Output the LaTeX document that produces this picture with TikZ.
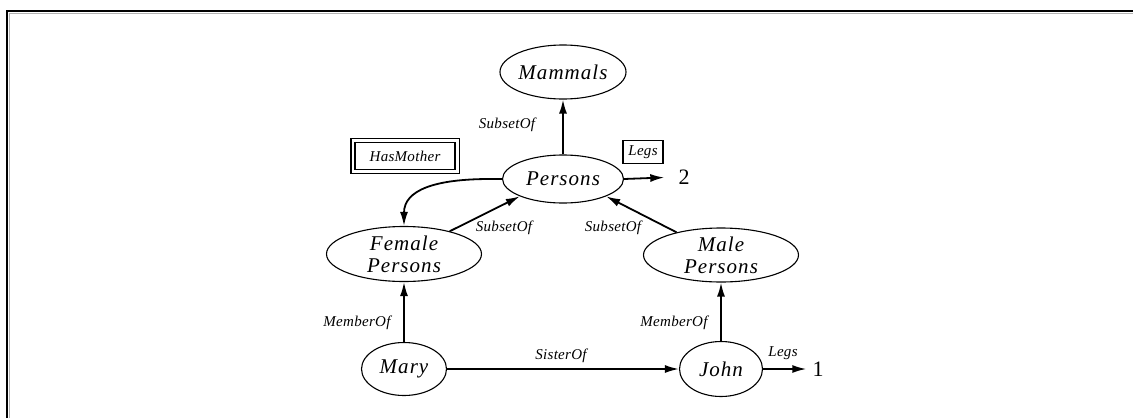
\documentclass[tikz,border=0pt]{standalone}
\usepackage{fontspec}
\setmainfont{Liberation Serif}
\newfontfamily\labfont[LetterSpace=5]{Liberation Serif}
\newfontfamily\smallfont[LetterSpace=2]{Liberation Serif}
\usetikzlibrary{shapes.geometric,arrows.meta}
\begin{document}
\begin{tikzpicture}[x=1pt,y=-1pt,
  ent/.style={draw, ellipse, line width=1.1pt, inner sep=0pt, align=center,
    font=\labfont\itshape\fontsize{21}{22}\selectfont},
  lbl/.style={font=\smallfont\itshape\fontsize{15}{16}\selectfont, inner sep=1pt},
  num/.style={font=\fontsize{22}{22}\selectfont, inner sep=1pt},
  arr/.style={line width=1.8pt, -{Latex[length=14pt,width=8pt]}},
  box/.style={draw, line width=1.1pt, inner sep=0pt, minimum width=40pt, minimum height=23pt,
    font=\smallfont\itshape\fontsize{15}{16}\selectfont},
  dbox/.style={draw, line width=1.1pt, inner sep=0pt,
    minimum width=100pt, minimum height=27pt, font=\smallfont\itshape\fontsize{15}{16}\selectfont}]
\useasboundingbox (0,0) rectangle (1133,418);
% frame
\draw[gray!60, line width=1pt] (9.5,418) -- (9.5,13.5) -- (1133,13.5);
\draw[line width=2pt] (7,418) -- (7,11) -- (1133,11);
% nodes
\node[ent, minimum width=121pt, minimum height=54pt] (mammals) at (563,72) {Mammals};
\node[ent, minimum width=121pt, minimum height=48pt] (persons) at (563,179) {Persons};
\node[ent, minimum width=155pt, minimum height=55pt] (female) at (404,254) {Female\\Persons};
\node[ent, minimum width=155pt, minimum height=54pt] (male) at (721,255) {Male\\Persons};
\node[ent, minimum width=85pt, minimum height=53pt] (mary) at (404,369) {Mary};
\node[ent, minimum width=83pt, minimum height=55pt] (john) at (721,369) {John};
\node[dbox] (hasmother) at (405,156) {HasMother};
\draw[line width=1.1pt] ([shift={(-3.5,-3.5)}]hasmother.north west) rectangle ([shift={(3.5,3.5)}]hasmother.south east);
\node[box] (legsbox) at (643,152) {Legs};
\node[num] (two) at (684,177) {2};
\node[num] (one) at (818,369) {1};
% connectors
\draw[arr] (persons.north) -- (mammals.south);
\draw[arr] (female) -- (persons.south west);
\draw[arr] (male) -- (persons.south east);
\draw[arr] (mary.north) -- (female.south);
\draw[arr] (john.north) -- (male.south);
\draw[arr] (mary.east) -- (john.west);
\draw[arr, shorten >=13pt] (persons.east) -- (two.west);
\draw[arr, shorten >=5pt] (john.east) -- (one.west);
\draw[arr] (persons.west) -- ++(-12,0) .. controls +(-55,0) and (404,190) .. (female.north);
% labels
\node[lbl] (l1) at (507,125) {SubsetOf};
\node[lbl] (l2) at (504,228) {SubsetOf};
\node[lbl] (l3) at (613,228) {SubsetOf};
\node[lbl] (l4) at (357,323) {MemberOf};
\node[lbl] (l5) at (674,323) {MemberOf};
\node[lbl] (l6) at (561,356) {SisterOf};
\node[lbl] (l7) at (783,353) {Legs};
\end{tikzpicture}
\end{document}
